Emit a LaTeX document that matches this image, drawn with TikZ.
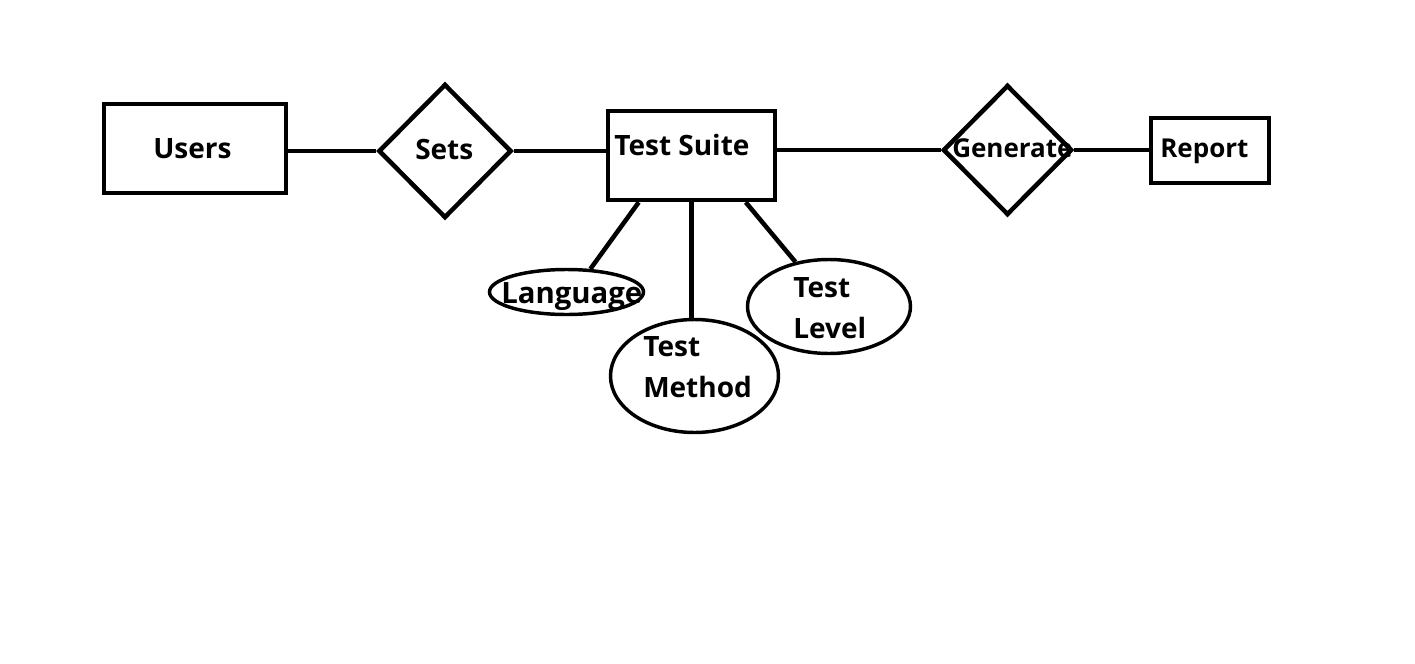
\documentclass[tikz,border=0pt]{standalone}
\usepackage{fontspec}
\setmainfont{Open Sans}
\usetikzlibrary{shapes.geometric, positioning}

\begin{document}
\begin{tikzpicture}[x=0.75pt, y=-0.75pt,
    entity/.style={draw, rectangle, line width=3.4pt},
    relation/.style={draw, diamond, line width=3.4pt, inner sep=0pt},
    attrib/.style={draw, ellipse, line width=2.6pt, inner sep=0pt},
    link/.style={line width=3.4pt},
    lbl/.style={inner sep=0pt, anchor=base west, align=left, font=\bfseries\fontsize{21}{30.75}\selectfont}]
    \useasboundingbox (0,0) rectangle (1415,664);

    % shapes
    \node[entity, minimum width=136.5pt, minimum height=66.75pt] (users) at (195,148.5) {};
    \node[relation, minimum width=99.75pt, minimum height=100.5pt] (sets) at (445,151) {};
    \node[entity, minimum width=125.25pt, minimum height=66.75pt] (suite) at (691.5,155.5) {};
    \node[relation, minimum width=96.75pt, minimum height=97.5pt] (gen) at (1007.5,150) {};
    \node[entity, minimum width=88.5pt, minimum height=48.75pt] (report) at (1210,150.5) {};
    \node[attrib, minimum width=115.5pt, minimum height=33.75pt] (lang) at (566.5,292) {};
    \node[attrib, minimum width=126pt, minimum height=84.75pt] (meth) at (694.5,376) {};
    \node[attrib, minimum width=122.25pt, minimum height=70.5pt] (level) at (829,306.5) {};

    % connectors
    \coordinate (suiteA) at ([xshift=24.75pt]suite.south west);
    \coordinate (suiteB) at ([xshift=105pt]suite.south west);
    \draw[link] (sets.west -| users.east) -- (sets.west);
    \draw[link] (sets.east) -- (sets.east -| suite.west);
    \draw[link] (gen.west -| suite.east) -- (gen.west);
    \draw[link] (gen.east) -- (gen.east -| report.west);
    \draw[link] (suiteA) -- (lang.44);
    \draw[link] (suite.south) -- (suite.south |- meth.north);
    \draw[link] (suiteB) -- (level.127);

    % labels
    \node[lbl] (usersText) at (153,158) {Users};
    \node[lbl] (setsText) at (415,159) {Sets};
    \node[lbl] (suiteText) at (614,155) {Test Suite};
    \node[lbl, font=\bfseries\fontsize{19.5}{24}\selectfont] (genText) at (952,157) {Generate};
    \node[lbl, font=\bfseries\fontsize{19.5}{24}\selectfont] (reportText) at (1160,157) {Report};
    \node[lbl, font=\bfseries\fontsize{22}{26}\selectfont] (langText) at (501,303) {Language};
    \node[lbl] (methText) at (643,397) {Test\\Method};
    \node[lbl] (levelText) at (793,338) {Test\\Level};
\end{tikzpicture}
\end{document}
